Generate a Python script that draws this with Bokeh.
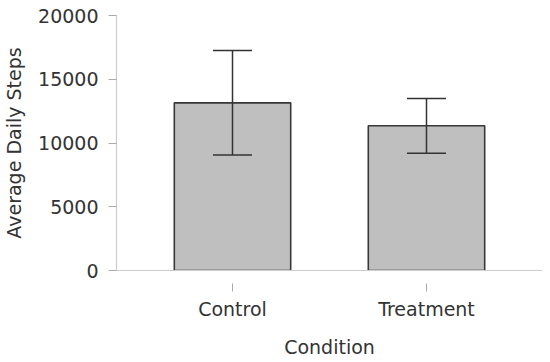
from bokeh.plotting import figure
from bokeh.models import ColumnDataSource, Whisker, TeeHead, FactorRange, Range1d
from bokeh.embed import file_html
from bokeh.resources import INLINE

conditions = ["Control", "Treatment"]
means = [13150, 11350]
errors = [4100, 2150]
y_ticks = [0, 5000, 10000, 15000, 20000]

lower = [m - e for m, e in zip(means, errors)]
upper = [m + e for m, e in zip(means, errors)]
src = ColumnDataSource(dict(x=conditions, top=means, lower=lower, upper=upper))

p = figure(x_range=FactorRange(*conditions, range_padding=0.098),
           y_range=Range1d(0, 20000),
           width=550, height=362, output_backend="svg", toolbar_location=None,
           min_border_left=116, min_border_right=8, min_border_top=15, min_border_bottom=92)
p.outline_line_color = None
p.xgrid.grid_line_color = None
p.ygrid.grid_line_color = None
p.background_fill_color = "white"
p.border_fill_color = "white"

p.vbar(x="x", top="top", bottom=0, width=0.6, source=src,
       fill_color="#bfbfbf", line_color="#383838", line_width=1.6)

w = Whisker(base="x", lower="lower", upper="upper", source=src,
            line_color="#333333", line_width=1.5, level="overlay",
            upper_head=TeeHead(size=39, line_color="#333333", line_width=1.5),
            lower_head=TeeHead(size=39, line_color="#333333", line_width=1.5))
p.add_layout(w)

font = "DejaVu Sans"
p.yaxis.ticker = y_ticks
p.yaxis.axis_label = "Average Daily Steps"
p.xaxis.axis_label = "Condition"
for ax in (p.xaxis[0], p.yaxis[0]):
    ax.axis_line_color = "#cccccc"
    ax.axis_line_width = 1.2
    ax.major_tick_line_color = "#aaaaaa"
    ax.minor_tick_line_color = None
    ax.major_label_text_font = font
    ax.major_label_text_font_size = "19px"
    ax.major_label_text_color = "#333333"
    ax.axis_label_text_font = font
    ax.axis_label_text_font_size = "19px"
    ax.axis_label_text_font_style = "normal"
    ax.axis_label_text_color = "#333333"

p.yaxis.major_tick_in = 0
p.yaxis.major_tick_out = 8
p.yaxis.major_label_standoff = 10
p.yaxis.axis_label_standoff = 10

p.xaxis.major_tick_in = -13
p.xaxis.major_tick_out = 21
p.xaxis.major_label_standoff = 6
p.xaxis.axis_label_standoff = 13

open("out.html", "w").write(file_html(p, INLINE))
